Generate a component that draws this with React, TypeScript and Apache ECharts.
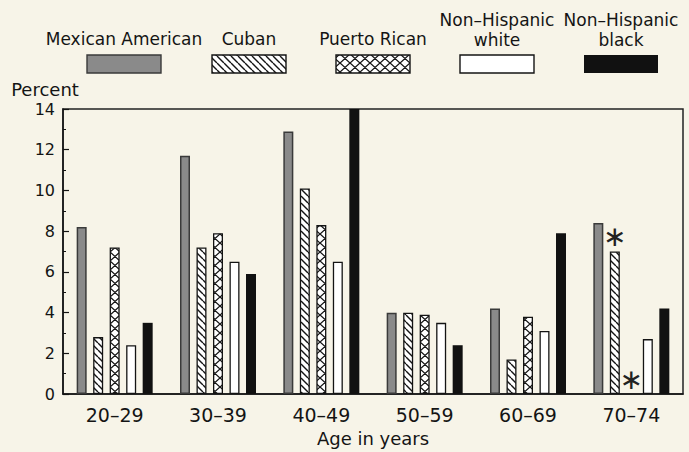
import React, { useEffect, useRef } from 'react';
import * as echarts from 'echarts';

const ageGroups = ['20–29', '30–39', '40–49', '50–59', '60–69', '70–74'];
const seriesNames = ['Mexican American', 'Cuban', 'Puerto Rican', 'Non–Hispanic white', 'Non–Hispanic black'];
const legendLines = [['Mexican American'], ['Cuban'], ['Puerto Rican'], ['Non–Hispanic', 'white'], ['Non–Hispanic', 'black']];
const mexicanAmerican = [8.2, 11.7, 12.9, 4.0, 4.2, 8.4];
const cuban = [2.8, 7.2, 10.1, 4.0, 1.7, 7.0];
const puertoRican = [7.2, 7.9, 8.3, 3.9, 3.8, 0];
const nonHispanicWhite = [2.4, 6.5, 6.5, 3.5, 3.1, 2.7];
const nonHispanicBlack = [3.5, 5.9, 14.5, 2.4, 7.9, 4.2];
// asterisk flags (unreliable estimate / not shown)
const cubanFlags = [false, false, false, false, false, true];
const puertoRicanFlags = [false, false, false, false, false, true];
const yTicks = { min: 0, max: 14, interval: 2 };

const FONT = 'DejaVu Sans';
const BG = '#f7f4e8';
const INK = '#141414';

function makePattern(kind: 'diag' | 'cross') {
  const w = kind === 'diag' ? 7 : 10;
  const h = kind === 'diag' ? 7 : 9;
  const c = document.createElement('canvas');
  c.width = w;
  c.height = h;
  const ctx = c.getContext('2d')!;
  ctx.fillStyle = '#ffffff';
  ctx.fillRect(0, 0, w, h);
  ctx.strokeStyle = INK;
  ctx.lineWidth = kind === 'diag' ? 1.4 : 1.3;
  ctx.beginPath();
  for (const dx of [-w, 0, w]) {
    ctx.moveTo(dx, 0);
    ctx.lineTo(dx + w, h);
    if (kind === 'cross') {
      ctx.moveTo(dx + w, 0);
      ctx.lineTo(dx, h);
    }
  }
  ctx.stroke();
  return { image: c.toDataURL(), repeat: 'repeat', imageWidth: w, imageHeight: h } as any;
}

const asteriskLabel = {
  show: true,
  position: 'top',
  distance: 0,
  formatter: '∗',
  fontFamily: FONT,
  fontSize: 28,
  lineHeight: 28,
  color: '#222',
  offset: [0, -1],
};

export default function App() {
  const ref = useRef<HTMLDivElement>(null);
  useEffect(() => {
    const chart = echarts.init(ref.current!, null, { renderer: 'svg' });
    const diag = makePattern('diag');
    const cross = makePattern('cross');

    const styles = [
      { color: '#8a8a8a', borderColor: '#3a3a3a', borderWidth: 1.5 },
      { color: diag, borderColor: INK, borderWidth: 1.3 },
      { color: cross, borderColor: INK, borderWidth: 1.3 },
      { color: '#ffffff', borderColor: INK, borderWidth: 1.3 },
      { color: '#111111', borderColor: '#111111', borderWidth: 0 },
    ];

    const withFlags = (vals: number[], flags: boolean[], zeroHidden: boolean) =>
      vals.map((v, i) =>
        flags[i]
          ? {
              value: v,
              label: asteriskLabel,
              itemStyle: zeroHidden && v === 0 ? { borderWidth: 0, color: 'rgba(0,0,0,0)' } : undefined,
            }
          : v
      );

    const dataSets = [
      mexicanAmerican,
      withFlags(cuban, cubanFlags, false),
      withFlags(puertoRican, puertoRicanFlags, true),
      nonHispanicWhite,
      nonHispanicBlack,
    ];

    const legendCenters = [124, 249, 373, 497, 621];
    const graphic: any[] = [];
    legendLines.forEach((lines, i) => {
      const cx = legendCenters[i];
      graphic.push({
        type: 'rect',
        shape: { x: cx - 37, y: 55, width: 74, height: 18 },
        style: {
          fill: styles[i].color,
          stroke: i === 4 ? '#111111' : styles[i].borderColor,
          lineWidth: i === 4 ? 0 : 1.4,
        },
        silent: true,
      });
      lines.forEach((line, j) => {
        const y = lines.length === 2 ? (j === 0 ? 20 : 40) : 39;
        graphic.push({
          type: 'text',
          x: cx,
          y,
          style: {
            text: line,
            textAlign: 'center',
            textVerticalAlign: 'middle',
            fontFamily: FONT,
            fontSize: 17,
            fill: INK,
          },
          silent: true,
        });
      });
    });

    chart.setOption({
      animation: false,
      backgroundColor: BG,
      textStyle: { fontFamily: FONT },
      grid: {
        left: 63,
        right: 6,
        top: 109,
        bottom: 54,
        show: true,
        borderColor: '#222',
        borderWidth: 1.5,
        backgroundColor: 'transparent',
      },
      xAxis: {
        type: 'category',
        data: ageGroups,
        axisLine: { lineStyle: { color: INK, width: 1.5 } },
        axisTick: { show: false },
        axisLabel: { fontSize: 19, color: INK, margin: 11, fontFamily: FONT },
        name: 'Age in years',
        nameLocation: 'middle',
        nameGap: 32,
        nameTextStyle: { fontSize: 18, color: INK, fontFamily: FONT },
        splitLine: { show: false },
      },
      yAxis: {
        type: 'value',
        min: yTicks.min,
        max: yTicks.max,
        interval: yTicks.interval,
        name: 'Percent',
        nameLocation: 'end',
        nameGap: 11,
        nameTextStyle: { fontSize: 18, color: INK, fontFamily: FONT, align: 'center', padding: [0, 36, 0, 0] },
        axisLine: { show: true, lineStyle: { color: INK, width: 1.5 } },
        axisTick: { show: true, inside: true, length: 6, lineStyle: { color: INK, width: 1.2 } },
        minorTick: { show: true, splitNumber: 2, length: 3, lineStyle: { color: INK, width: 1 } },
        axisLabel: { fontSize: 16, color: INK, margin: 8, fontFamily: FONT },
        splitLine: { show: false },
      },
      series: dataSets.map((d, i) => ({
        type: 'bar',
        name: seriesNames[i],
        data: d,
        barWidth: 10,
        barGap: '65%',
        clip: true,
        itemStyle: styles[i],
      })),
      graphic,
    });
    return () => chart.dispose();
  }, []);
  return (
    <div
      ref={ref}
      style={{ position: 'fixed', left: 0, top: 0, width: 689, height: 452, background: BG }}
    />
  );
}
